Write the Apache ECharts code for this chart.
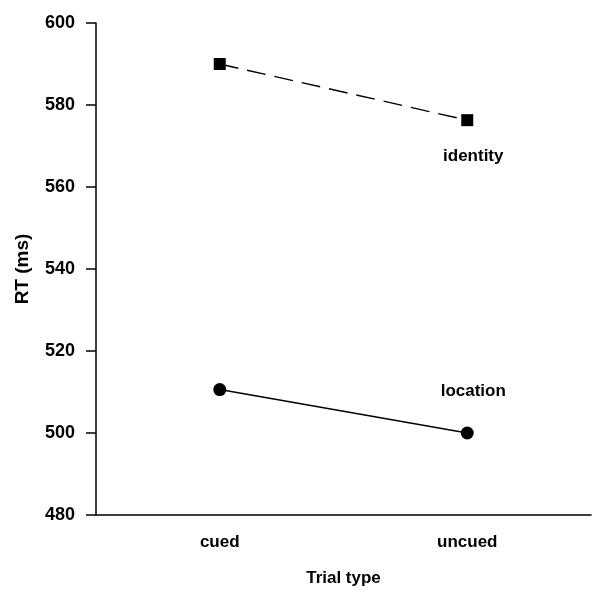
<!DOCTYPE html>
<html><head><meta charset="utf-8">
<script src="https://cdn.jsdelivr.net/npm/echarts@6/dist/echarts.min.js"></script>
<style>html,body{margin:0;padding:0;background:#fff}#c{width:594px;height:592px}</style>
</head><body><div id="c"></div>
<script>
const categories = ['cued', 'uncued'];
const identityValues = [590, 576.3];
const locationValues = [510.6, 500];
const yTicks = [480, 500, 520, 540, 560, 580, 600];

const font = 'Liberation Sans, Arial, sans-serif';
const chart = echarts.init(document.getElementById('c'), null, {renderer: 'canvas'});
chart.setOption({
  backgroundColor: '#fff',
  animation: false,
  grid: {left: 96, right: 3, top: 23, bottom: 72, containLabel: false},
  xAxis: {
    type: 'category', data: categories, boundaryGap: true,
    name: 'Trial type', nameLocation: 'middle', nameGap: 55,
    nameTextStyle: {fontFamily: font, fontSize: 17, color: '#000', fontWeight: 'bold'},
    axisLine: {lineStyle: {color: '#000', width: 1.5}},
    axisTick: {alignWithLabel: true, length: 8, lineStyle: {color: '#000', width: 1.5}},
    axisLabel: {fontFamily: font, fontSize: 17, color: '#000', margin: 19, fontWeight: 'bold'},
    splitLine: {show: false}
  },
  yAxis: {
    type: 'value', min: yTicks[0], max: yTicks[yTicks.length - 1], interval: 20,
    name: 'RT (ms)', nameLocation: 'middle', nameGap: 64, nameRotate: 90,
    nameTextStyle: {fontFamily: font, fontSize: 19, color: '#000', fontWeight: 'bold'},
    axisLine: {show: true, lineStyle: {color: '#000', width: 1.5}},
    axisTick: {show: true, length: 10, lineStyle: {color: '#000', width: 1.5}},
    axisLabel: {fontFamily: font, fontSize: 18, color: '#000', margin: 21, fontWeight: 'bold'},
    splitLine: {show: false}
  },
  series: [
    {
      name: 'identity', type: 'line', data: identityValues,
      symbol: 'rect', symbolSize: 12,
      itemStyle: {color: '#000'},
      lineStyle: {color: '#000', width: 1.4, type: [19, 9]},
      markPoint: {
        symbol: 'rect', symbolSize: 1, itemStyle: {color: 'rgba(0,0,0,0)'},
        data: [{coord: [1, identityValues[1]], value: 'identity'}],
        label: {show: true, formatter: 'identity', position: 'bottom', distance: 27, offset: [6, 0], fontFamily: font, fontSize: 17, color: '#000', fontWeight: 'bold'}
      }
    },
    {
      name: 'location', type: 'line', data: locationValues,
      symbol: 'circle', symbolSize: 13,
      itemStyle: {color: '#000'},
      lineStyle: {color: '#000', width: 1.4},
      markPoint: {
        symbol: 'rect', symbolSize: 1, itemStyle: {color: 'rgba(0,0,0,0)'},
        data: [{coord: [1, locationValues[1]], value: 'location'}],
        label: {show: true, formatter: 'location', position: 'top', distance: 33, offset: [6, 0], fontFamily: font, fontSize: 17, color: '#000', fontWeight: 'bold'}
      }
    }
  ]
});
</script></body></html>
